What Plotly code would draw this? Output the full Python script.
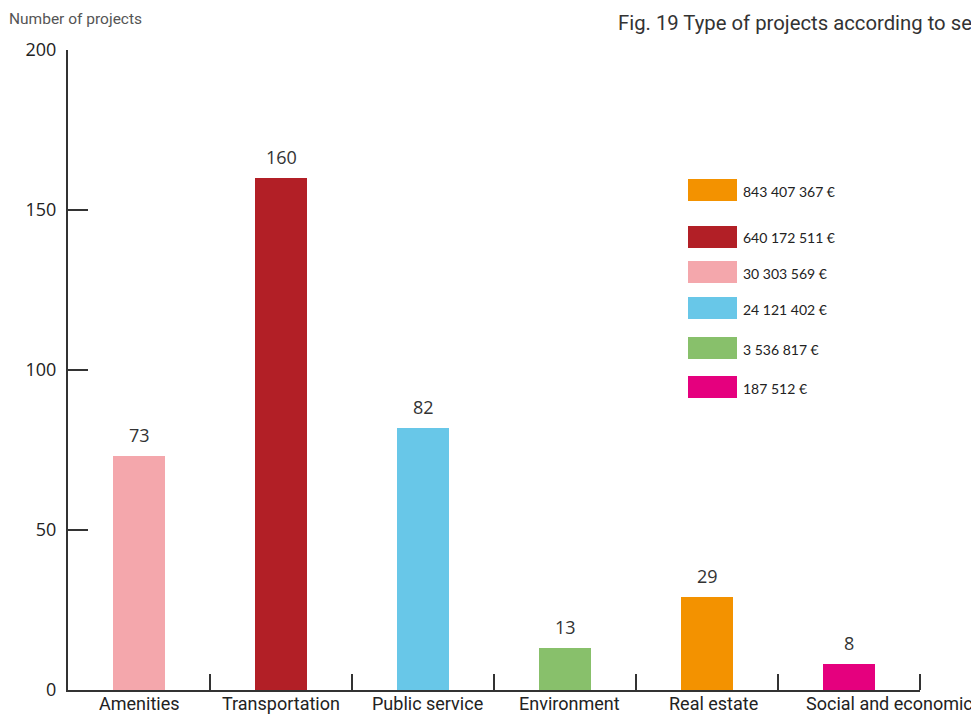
import plotly.graph_objects as go

categories = ["Amenities", "Transportation", "Public service", "Environment", "Real estate", "Social and economic"]
projects = [73, 160, 82, 13, 29, 8]
colors = ["#f4a7ac", "#b21f26", "#68c7e8", "#88c06b", "#f39200", "#e5007e"]
amounts = ["30 303 569 €", "640 172 511 €", "24 121 402 €", "3 536 817 €", "843 407 367 €", "187 512 €"]
legend_order = [4, 1, 0, 2, 3, 5]
y_ticks = [0, 50, 100, 150, 200]

# page body has an 8px margin; plot area in viewport px: x 68..920, y 50..690
OFF = 8
W, H = 979 - OFF, 716 - OFF
L, T, PW, PH = 68 - OFF, 50 - OFF, 852, 640
R, B = W - L - PW, H - T - PH

def px_x(x):
    return (x - 68) / PW

def px_y(y):
    return (690 - y) / PH

xs = list(range(len(categories)))
fig = go.Figure()
fig.add_trace(go.Bar(x=xs, y=projects, marker=dict(color=colors, line=dict(width=0)),
                     width=0.36, showlegend=False, hoverinfo="skip"))

for x, v in zip(xs, projects):
    fig.add_annotation(x=x, y=v, text=str(v), showarrow=False, yshift=21,
                       font=dict(family="Open Sans, Lato", size=18, color="#333"))

# category labels (last one sits off-centre in the reference)
label_shift = [0, 0, 4, 4, 6, 40]
for x, name, s in zip(xs, categories, label_shift):
    fig.add_annotation(x=x, y=0, yref="paper", yanchor="top", text=name, showarrow=False,
                       xshift=s, yshift=-1,
                       font=dict(family="Roboto", size=18, color="#222"))

# legend boxes
row_centers = [190, 237, 272, 308, 348, 387]
for c, idx in zip(row_centers, legend_order):
    fig.add_shape(type="rect", xref="paper", yref="paper",
                  x0=px_x(688), x1=px_x(737), y0=px_y(c + 11), y1=px_y(c - 11),
                  fillcolor=colors[idx], line=dict(width=0))
    fig.add_annotation(xref="paper", yref="paper", x=px_x(741), y=px_y(c + 1),
                       xanchor="left", yanchor="middle", text=amounts[idx], showarrow=False,
                       font=dict(family="Lato", size=14, color="#222"))

fig.add_annotation(xref="paper", yref="paper", x=px_x(7), y=px_y(19), xanchor="left", yanchor="middle",
                   text="Number of projects", showarrow=False,
                   font=dict(family="Roboto", size=15.5, color="#555"))
fig.add_annotation(xref="paper", yref="paper", x=px_x(616), y=px_y(23), xanchor="left", yanchor="middle",
                   text="Fig. 19 Type of projects according to sector", showarrow=False,
                   font=dict(family="Roboto", size=20.3, color="#333"))

fig.update_xaxes(range=[-0.5, len(categories) - 0.5], tickvals=xs, showticklabels=False,
                 ticks="", showline=True, linecolor="#333", linewidth=2, showgrid=False,
                 zeroline=False, automargin=False,
                 minor=dict(tickvals=[i + 0.5 for i in xs], ticks="inside", ticklen=16,
                            tickwidth=2, tickcolor="#333", showgrid=False))
fig.update_yaxes(range=[0, 200], tickvals=y_ticks, ticks="inside", ticklen=20, tickwidth=2,
                 tickcolor="#333", showline=True, linecolor="#333", linewidth=2, showgrid=False,
                 zeroline=False, ticklabelstandoff=6, automargin=False,
                 tickfont=dict(family="Open Sans, Lato", size=18, color="#222"))
fig.update_layout(width=W, height=H, margin=dict(l=L, r=R, t=T, b=B, autoexpand=False),
                  plot_bgcolor="white", paper_bgcolor="white", bargap=0)
fig.write_html("out.html")
